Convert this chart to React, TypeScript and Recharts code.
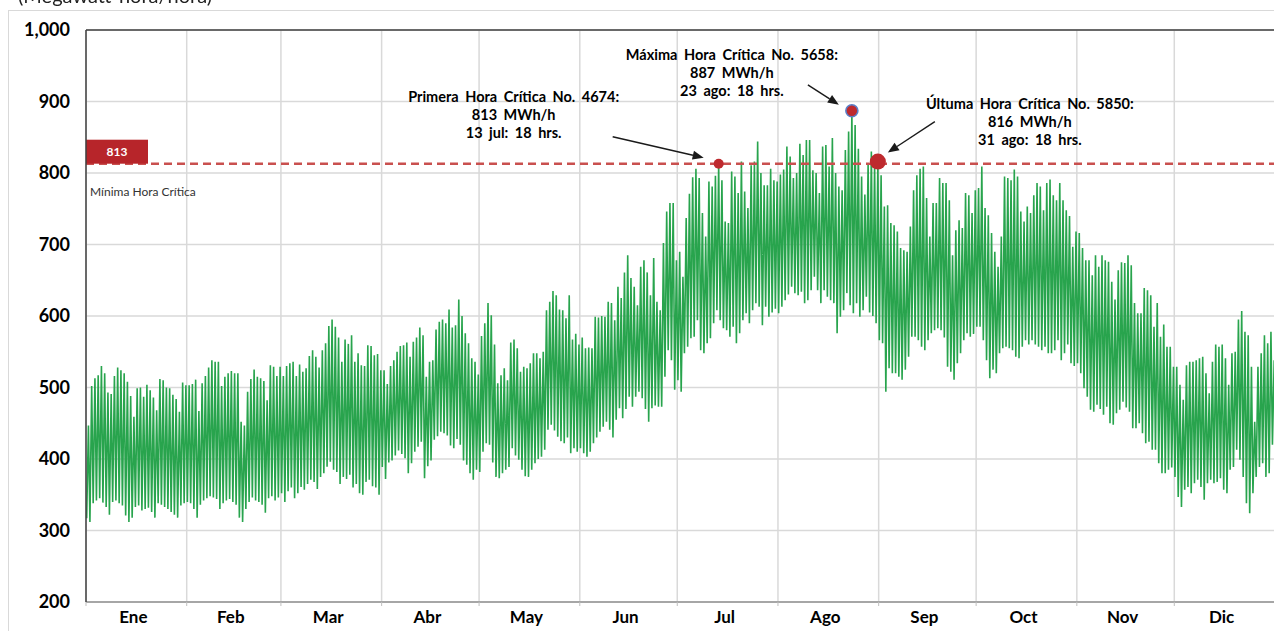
import React from 'react';
import { LineChart, Line, XAxis, YAxis, CartesianGrid, ReferenceLine, ReferenceDot } from 'recharts';

// demanda horaria (MWh/h): pico y valle diario leidos por mes
const months = ['Ene', 'Feb', 'Mar', 'Abr', 'May', 'Jun', 'Jul', 'Ago', 'Sep', 'Oct', 'Nov', 'Dic'];
const monthDays = [31, 29, 31, 30, 31, 30, 31, 31, 30, 31, 30, 31];
const yTicks = [200, 300, 400, 500, 600, 700, 800, 900, 1000];

const eneMax = [447, 502, 513, 517, 530, 520, 493, 491, 516, 528, 524, 520, 508, 488, 459, 499, 500, 487, 504, 496, 486, 468, 512, 510, 500, 499, 490, 484, 466, 507, 503];
const eneMin = [317, 312, 338, 342, 345, 339, 333, 322, 340, 342, 338, 335, 321, 312, 318, 333, 335, 328, 330, 332, 326, 318, 338, 336, 333, 330, 326, 322, 318, 335, 338];
const febMax = [503, 505, 511, 467, 506, 516, 528, 538, 536, 536, 502, 515, 520, 523, 520, 520, 452, 447, 494, 512, 525, 515, 513, 509, 482, 531, 529, 516, 529];
const febMin = [340, 338, 330, 318, 336, 342, 345, 348, 346, 344, 330, 338, 342, 344, 340, 336, 318, 312, 330, 340, 346, 342, 340, 336, 325, 345, 348, 342, 346];
const marMax = [516, 530, 534, 536, 516, 532, 522, 527, 544, 552, 543, 528, 552, 562, 586, 595, 585, 570, 536, 567, 561, 573, 536, 548, 531, 530, 559, 558, 545, 547, 524];
const marMin = [352, 340, 355, 360, 345, 352, 361, 357, 365, 371, 368, 358, 375, 380, 389, 396, 385, 382, 365, 375, 372, 378, 360, 365, 352, 350, 368, 371, 362, 360, 350];
const abrMax = [524, 505, 530, 538, 550, 558, 559, 563, 543, 564, 570, 584, 573, 515, 536, 538, 581, 592, 595, 590, 609, 584, 587, 623, 600, 576, 562, 541, 536, 518];
const abrMin = [389, 372, 395, 398, 405, 412, 407, 401, 380, 394, 410, 417, 424, 373, 390, 398, 427, 432, 438, 436, 433, 419, 415, 428, 420, 398, 392, 380, 371, 385];
const mayMax = [572, 590, 618, 601, 560, 506, 517, 527, 510, 563, 567, 555, 522, 529, 527, 534, 548, 548, 541, 550, 608, 620, 635, 629, 609, 608, 597, 629, 567, 575, 560];
const mayMin = [382, 410, 422, 420, 395, 375, 373, 380, 385, 389, 415, 405, 399, 385, 376, 375, 385, 394, 400, 403, 413, 441, 448, 440, 431, 425, 422, 430, 408, 415, 410];
const junMax = [570, 555, 556, 555, 599, 598, 600, 599, 620, 618, 594, 641, 625, 661, 685, 653, 641, 615, 669, 678, 661, 629, 681, 620, 608, 702, 746, 758, 758, 678];
const junMin = [415, 408, 403, 410, 422, 430, 438, 445, 452, 441, 430, 455, 471, 457, 470, 487, 473, 487, 494, 485, 470, 452, 471, 475, 473, 473, 515, 552, 538, 497];
const julMax = [690, 655, 737, 771, 794, 806, 793, 744, 711, 788, 781, 796, 813, 790, 732, 730, 802, 795, 772, 816, 774, 751, 811, 816, 844, 800, 783, 783, 806, 790, 788];
const julMin = [510, 494, 548, 557, 569, 571, 594, 552, 548, 562, 569, 590, 608, 594, 583, 580, 571, 585, 562, 576, 594, 604, 590, 608, 618, 613, 587, 613, 599, 605, 610];
const agoMax = [798, 805, 837, 823, 793, 800, 841, 825, 846, 846, 804, 800, 772, 837, 839, 809, 849, 800, 781, 776, 832, 858, 887, 867, 834, 795, 770, 814, 830, 812, 816];
const agoMin = [604, 613, 622, 630, 641, 632, 629, 634, 618, 622, 636, 655, 636, 618, 636, 627, 622, 618, 576, 599, 608, 632, 615, 604, 618, 599, 608, 627, 605, 600, 590];
const sepMax = [797, 753, 755, 730, 727, 718, 695, 692, 690, 725, 776, 797, 806, 809, 765, 711, 758, 758, 793, 786, 786, 762, 685, 720, 734, 723, 772, 769, 744, 776];
const sepMin = [566, 562, 494, 527, 520, 520, 515, 511, 525, 543, 571, 571, 566, 557, 552, 566, 576, 580, 583, 580, 570, 529, 522, 511, 534, 548, 566, 576, 571, 575];
const octMax = [779, 809, 751, 741, 716, 690, 669, 711, 795, 793, 790, 805, 795, 746, 732, 753, 744, 769, 786, 781, 748, 786, 791, 769, 762, 786, 762, 748, 740, 697, 718];
const octMin = [585, 585, 566, 538, 513, 525, 520, 548, 555, 557, 555, 552, 543, 541, 557, 566, 560, 566, 560, 557, 552, 557, 548, 548, 552, 566, 538, 548, 560, 534, 530];
const novMax = [716, 695, 678, 678, 657, 685, 669, 685, 678, 676, 648, 623, 664, 675, 674, 685, 671, 618, 604, 604, 639, 636, 629, 585, 618, 571, 588, 557, 557, 529];
const novMin = [534, 520, 499, 487, 469, 466, 476, 470, 462, 473, 450, 448, 464, 469, 480, 472, 466, 443, 443, 450, 436, 422, 424, 413, 413, 394, 380, 380, 385, 388];
const dicMax = [529, 504, 483, 531, 536, 536, 538, 541, 543, 520, 492, 536, 560, 557, 560, 541, 504, 548, 550, 595, 607, 578, 573, 529, 452, 529, 548, 573, 562, 578, 538];
const dicMin = [375, 347, 333, 357, 361, 352, 366, 371, 361, 343, 366, 371, 366, 368, 373, 357, 352, 385, 389, 413, 399, 375, 338, 324, 352, 375, 389, 394, 375, 380, 420];

const minCritica = 813;
const primera = { hora: 4674, mw: 813, fecha: '13 jul: 18 hrs.' };
const maxima = { hora: 5658, mw: 887, fecha: '23 ago: 18 hrs.' };
const ultima = { hora: 5850, mw: 816, fecha: '31 ago: 18 hrs.' };

const dailyMax = [...eneMax, ...febMax, ...marMax, ...abrMax, ...mayMax, ...junMax, ...julMax, ...agoMax, ...sepMax, ...octMax, ...novMax, ...dicMax];
const dailyMin = [...eneMin, ...febMin, ...marMin, ...abrMin, ...mayMin, ...junMin, ...julMin, ...agoMin, ...sepMin, ...octMin, ...novMin, ...dicMin];

// valle a las 5 h, pico a las 18 h
const data = dailyMax.flatMap((hi, d) => [
  { h: d * 24 + 5, mw: dailyMin[d] },
  { h: d * 24 + 18, mw: hi },
]);

const totalHours = monthDays.reduce((a, b) => a + b, 0) * 24;
const monthStarts = monthDays.reduce((acc, d) => [...acc, acc[acc.length - 1] + d * 24], [0] as number[]);

const FONT = 'Lato, "Open Sans", sans-serif';
const PLOT_W = 1189;
const RED = '#BE2A2E';

const MonthTick = (props: any) => {
  const { x, y, payload } = props;
  const i = monthStarts.indexOf(payload.value);
  if (i < 0 || i >= 12) return null;
  const half = ((monthDays[i] * 24) / 2) * (PLOT_W / totalHours);
  return (
    <text x={x + half - 3} y={y + 15} textAnchor="middle" fontFamily={FONT} fontWeight={700} fontSize={17} fill="#000">
      {months[i]}
    </text>
  );
};

const Arrow = ({ x1, y1, x2, y2 }: { x1: number; y1: number; x2: number; y2: number }) => {
  const ang = Math.atan2(y2 - y1, x2 - x1);
  const len = 11;
  const w = 4.5;
  const bx = x2 - len * Math.cos(ang);
  const by = y2 - len * Math.sin(ang);
  const px = -Math.sin(ang) * w;
  const py = Math.cos(ang) * w;
  return (
    <g>
      <line x1={x1} y1={y1} x2={bx} y2={by} stroke="#1a1a1a" strokeWidth={1.4} />
      <polygon points={`${x2},${y2} ${bx + px},${by + py} ${bx - px},${by - py}`} fill="#1a1a1a" />
    </g>
  );
};

type AnnotProps = {
  cx?: number;
  cy?: number;
  r: number;
  ring?: boolean;
  title: string;
  mw: number;
  fecha: string;
  tx: number;
  ty: number;
  arrow: [number, number, number, number];
};

const Annot = ({ cx = 0, cy = 0, r, ring, title, mw, fecha, tx, ty, arrow }: AnnotProps) => {
  const lines = [title, `${mw} MWh/h`, fecha];
  return (
    <g>
      <circle cx={cx} cy={cy} r={r} fill={RED} stroke={ring ? '#5B7FC7' : 'none'} strokeWidth={ring ? 1.6 : 0} />
      <Arrow x1={cx + arrow[0]} y1={cy + arrow[1]} x2={cx + arrow[2]} y2={cy + arrow[3]} />
      {lines.map((t, i) => (
        <text
          key={i}
          x={cx + tx}
          y={cy + ty + i * 18}
          textAnchor="middle"
          dominantBaseline="central"
          fontFamily={FONT}
          fontWeight={700}
          fontSize={14.5}
          wordSpacing={3}
          fill="#000"
        >
          {t}
        </text>
      ))}
    </g>
  );
};

const MinLabel = (props: any) => {
  const { viewBox } = props;
  if (!viewBox) return null;
  const { x, y } = viewBox;
  return (
    <g>
      <rect x={x} y={y - 24} width={62} height={24} fill="#B7252A" />
      <text x={x + 31} y={y - 12} textAnchor="middle" dominantBaseline="central" fontFamily={FONT} fontWeight={700} fontSize={12} fill="#fff">
        {minCritica}
      </text>
      <text x={x + 4} y={y + 28} dominantBaseline="central" fontFamily={FONT} fontSize={12} fill="#333">
        Mínima Hora Crítica
      </text>
    </g>
  );
};

const App = () => {
  return (
    <div style={{ position: 'relative', width: 1274, height: 623 }}>
      <svg width={300} height={10} style={{ position: 'fixed', top: 0, left: 0, zIndex: 5 }}>
        <text x={18} y={3} fontFamily={FONT} fontSize={20} fill="#222">
          (Megawatt-hora/hora)
        </text>
      </svg>
      <div style={{ position: 'absolute', top: 0, left: 0, width: 1274, height: 623, overflow: 'hidden' }}>
        <div style={{ position: 'absolute', top: 2, left: 0, width: 1400, height: 800, border: '1px solid #d9d9d9', boxSizing: 'border-box' }} />
        <div style={{ position: 'absolute', top: 0, left: 0 }}>
          <LineChart width={1274} height={622} data={data} margin={{ top: 22, right: 7, bottom: 0, left: 0 }}>
            <CartesianGrid stroke="#d9d9d9" strokeWidth={1.5} />
            <XAxis
              dataKey="h"
              type="number"
              domain={[0, totalHours]}
              ticks={monthStarts}
              tick={<MonthTick />}
              tickSize={4}
              tickMargin={2}
              tickLine={{ stroke: '#bfbfbf' }}
              axisLine={{ stroke: '#a6a6a6', strokeWidth: 2 }}
              height={28}
              interval={0}
              allowDataOverflow
            />
            <YAxis
              type="number"
              domain={[200, 1000]}
              ticks={yTicks}
              width={78}
              tickLine={false}
              tickSize={0}
              tickMargin={16}
              axisLine={{ stroke: '#404040', strokeWidth: 1.5 }}
              tickFormatter={(v: number) => v.toLocaleString('en-US')}
              tick={{ fontFamily: FONT, fontWeight: 700, fontSize: 18, fill: '#000' }}
              allowDataOverflow
            />
            <Line
              type="linear"
              dataKey="mw"
              stroke="#28A44D"
              strokeWidth={1.6}
              dot={false}
              activeDot={false}
              isAnimationActive={false}
            />
            <ReferenceLine y={1000} stroke="#404040" strokeWidth={1.5} />
            <ReferenceLine x={totalHours} stroke="#404040" strokeWidth={1.5} />
            <ReferenceLine y={minCritica} stroke="#C9504F" strokeWidth={2.5} strokeDasharray="8 5" label={<MinLabel />} />
            <ReferenceDot
              x={primera.hora}
              y={primera.mw}
              r={5}
              shape={(p: any) => (
                <Annot cx={p.cx} cy={p.cy} r={5} title={`Primera Hora Crítica No. ${primera.hora}:`} mw={primera.mw} fecha={primera.fecha} tx={-205} ty={-67} arrow={[-106, -27, -15, -6]} />
              )}
            />
            <ReferenceDot
              x={maxima.hora}
              y={maxima.mw}
              r={6}
              shape={(p: any) => (
                <Annot cx={p.cx} cy={p.cy} r={6} ring title={`Máxima Hora Crítica No. ${maxima.hora}:`} mw={maxima.mw} fecha={maxima.fecha} tx={-120} ty={-56} arrow={[-44, -26, -13, -6]} />
              )}
            />
            <ReferenceDot
              x={ultima.hora}
              y={ultima.mw}
              r={8}
              shape={(p: any) => (
                <Annot cx={p.cx} cy={p.cy} r={8} title={`Últuma Hora Crítica No. ${ultima.hora}:`} mw={ultima.mw} fecha={ultima.fecha} tx={152} ty={-58} arrow={[57, -40, 10, -9]} />
              )}
            />
          </LineChart>
        </div>
      </div>
    </div>
  );
};

export default App;
